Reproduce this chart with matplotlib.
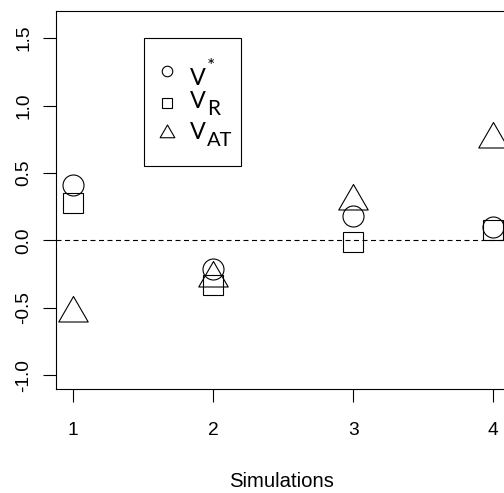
import matplotlib
matplotlib.use("Agg")
import matplotlib.pyplot as plt
from matplotlib.path import Path
from matplotlib.patches import Rectangle

# ---- data ----
simulations = [1, 2, 3, 4]
v_star = [0.41, -0.21, 0.18, 0.10]
v_r = [0.28, -0.33, -0.01, 0.08]
v_at = [-0.54, -0.28, 0.29, 0.75]
x_ticks = [1, 2, 3, 4]
y_ticks = [-1.0, -0.5, 0.0, 0.5, 1.0, 1.5]
y_ticklabels = ["-1.0", "-0.5", "0.0", "0.5", "1.0", "1.5"]

W, H, DPI = 504, 493, 100
fig = plt.figure(figsize=(W / DPI, H / DPI), dpi=DPI)

# axes box in pixels (right edge extends past the figure, as in the cropped reference)
L, T, R_, B = 56.0, 10.7, 510.1, 389.3
ax = fig.add_axes([L / W, 1 - B / H, (R_ - L) / W, (B - T) / H])
ax.set_xlim(0.88, 4.12)
ax.set_ylim(-1.104, 1.704)

# R-style triangle (centroid-centred)
tri = Path([(0, 1.5551), (1.3468, -0.7776), (-1.3468, -0.7776), (0, 1.5551)],
           [Path.MOVETO, Path.LINETO, Path.LINETO, Path.CLOSEPOLY])

px = 0.72  # points per pixel
mew = 0.8
kw = dict(linestyle="none", markerfacecolor="none", markeredgecolor="black",
          markeredgewidth=mew)

ax.axhline(0, color="black", lw=0.8, dashes=(5 * px / 0.8, 3.5 * px / 0.8), zorder=1)

ax.plot(simulations, v_at, marker=tri, markersize=34 * px, **kw)
ax.plot(simulations, v_star, marker="o", markersize=21 * px, **kw)
ax.plot(simulations, v_r, marker="s", markersize=20.3 * px, **kw)

# axes styling (R base look)
for s in ax.spines.values():
    s.set_linewidth(0.8)
    s.set_color("black")
ax.set_xticks(x_ticks)
ax.set_xticklabels([str(v) for v in x_ticks])
ax.set_yticks(y_ticks)
ax.set_yticklabels(y_ticklabels)
ax.tick_params(axis="both", direction="out", length=13 * px, width=0.8,
               colors="black", labelsize=13.8)
ax.tick_params(axis="x", pad=14.3)
ax.tick_params(axis="y", pad=7.5, labelrotation=90)
for lab in ax.get_yticklabels():
    lab.set_verticalalignment("center")
for lab in ax.get_xticklabels() + ax.get_yticklabels():
    lab.set_fontfamily("Liberation Sans")

ax.set_xlabel("Simulations", fontsize=14.6, fontfamily="Liberation Sans")
ax.xaxis.set_label_coords((281.7 - L) / (R_ - L), (B - 487.0) / (B - T))
ax.xaxis.label.set_verticalalignment("baseline")


def to_ax(xp, yp):
    return ((xp - L) / (R_ - L), (B - yp) / (B - T))


# ---- legend ----
x0, y0 = to_ax(143.7, 166.0)
x1, y1 = to_ax(241.3, 38.3)
ax.add_patch(Rectangle((x0, y0), x1 - x0, y1 - y0, transform=ax.transAxes,
                       fill=False, edgecolor="black", lw=0.8, zorder=5))

# (marker, size px, marker y, extra text, extra x, extra baseline, extra size, V baseline)
leg_rows = [
    ("o", 10.5, 71.3, "*", 207.0, 72.5, 14.0, 85.0),
    ("s", 10.0, 103.0, "R", 207.0, 115.0, 15.0, 108.3),
    (tri, 17.0, 133.3, "AT", 206.5, 145.7, 14.5, 139.3),
]
lfont = "Lato"
for mk, ms, ym, extra, xe, be, fe, base in leg_rows:
    xa, ya = to_ax(167.0, ym)
    ax.plot([xa], [ya], transform=ax.transAxes, marker=mk, markersize=ms * px,
            clip_on=False, **kw)
    xv, yv = to_ax(189.5, base)
    ax.text(xv, yv, "V", transform=ax.transAxes, fontsize=16.8,
            fontfamily=lfont, ha="left", va="baseline")
    xs, ys = to_ax(xe, be)
    ax.text(xs, ys, extra, transform=ax.transAxes, fontsize=fe,
            fontfamily=lfont, ha="left", va="baseline")

fig.savefig("out.png", dpi=DPI)
